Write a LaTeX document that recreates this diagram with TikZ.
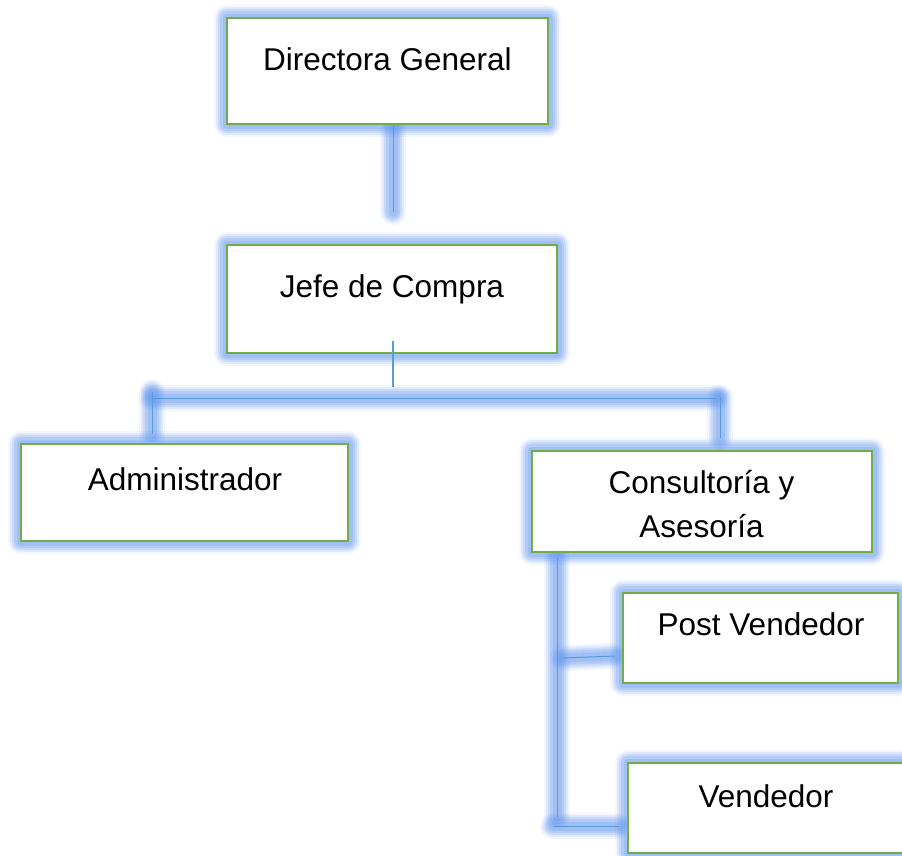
\documentclass[tikz,border=0pt]{standalone}
\usepackage{fontspec}
\setmainfont{Liberation Sans}
\definecolor{glowc}{RGB}{90,145,240}
\definecolor{linec}{RGB}{91,155,213}
\definecolor{boxg}{RGB}{112,173,71}
\tikzset{
  glow/.style={
    preaction={draw=glowc, line width=26pt, opacity=.08, line join=round, line cap=round},
    preaction={draw=glowc, line width=22pt, opacity=.12, line join=round, line cap=round},
    preaction={draw=glowc, line width=18pt, opacity=.16, line join=round, line cap=round},
    preaction={draw=glowc, line width=14pt, opacity=.2, line join=round, line cap=round},
    preaction={draw=glowc, line width=9pt, opacity=.2, line join=round, line cap=round}},
  orgbox/.style={glow, rectangle, draw=boxg, line width=2.5pt, fill=white,
    inner sep=0pt, outer sep=0pt},
  lbl/.style={font=\fontsize{31.5}{44}\selectfont, text=black, anchor=base, inner sep=0pt},
  conn/.style={glow, draw=linec, line width=1pt},
  thin/.style={draw=linec, line width=1.2pt}
}
\begin{document}
\begin{tikzpicture}[x=1pt,y=-1pt]
\useasboundingbox (0,0) rectangle (902,855);
\fill[white] (0,0) rectangle (902,855);

% connector coordinates
\coordinate (c1a) at (393,124);
\coordinate (c1b) at (393,212);
\coordinate (j1a) at (393,341);
\coordinate (j1b) at (393,387);
\coordinate (hL) at (152,398);
\coordinate (hR) at (716,398);
\coordinate (vLa) at (152,392);
\coordinate (vLb) at (152,434);
\coordinate (vRa) at (720,397);
\coordinate (vRb) at (720,438);
\coordinate (sa) at (557,558);
\coordinate (sb) at (557,817);
\coordinate (pa) at (563,658);
\coordinate (pb) at (615,656);
\coordinate (va) at (553,826);
\coordinate (vb) at (619,826);

% connectors with glow
\draw[conn] (c1a) -- (c1b);
\draw[conn] (hL) -- (hR);
\draw[conn] (vLa) -- (vLb);
\draw[conn] (vRa) -- (vRb);
\draw[conn] (sa) -- (sb);
\draw[conn] (pa) -- (pb);
\draw[conn] (va) -- (vb);

% boxes
\node[orgbox, minimum width=321pt, minimum height=106pt] (dir) at (387.5,71) {};
\node[orgbox, minimum width=330pt, minimum height=108pt] (jefe) at (392,299) {};
\node[orgbox, minimum width=327pt, minimum height=97pt] (adm) at (184.5,492.5) {};
\node[orgbox, minimum width=340pt, minimum height=101pt] (cons) at (702,501.5) {};
\node[orgbox, minimum width=275pt, minimum height=90pt] (post) at (760.5,638) {};
\node[orgbox, minimum width=276pt, minimum height=90pt] (vend) at (766,808) {};

% thin connector from Jefe de Compra (no glow)
\draw[thin] (j1a) -- (j1b);

% labels
\node[lbl] (tdir) at (387.5,70) {Directora General};
\node[lbl] (tjefe) at (392,297) {Jefe de Compra};
\node[lbl] (tadm) at (185,490) {Administrador};
\node[lbl] (tcons1) at (701.5,493) {Consultoría y};
\node[lbl] (tcons2) at (701.5,537) {Asesoría};
\node[lbl] (tpost) at (761,635) {Post Vendedor};
\node[lbl] (tvend) at (766,807) {Vendedor};
\end{tikzpicture}
\end{document}
